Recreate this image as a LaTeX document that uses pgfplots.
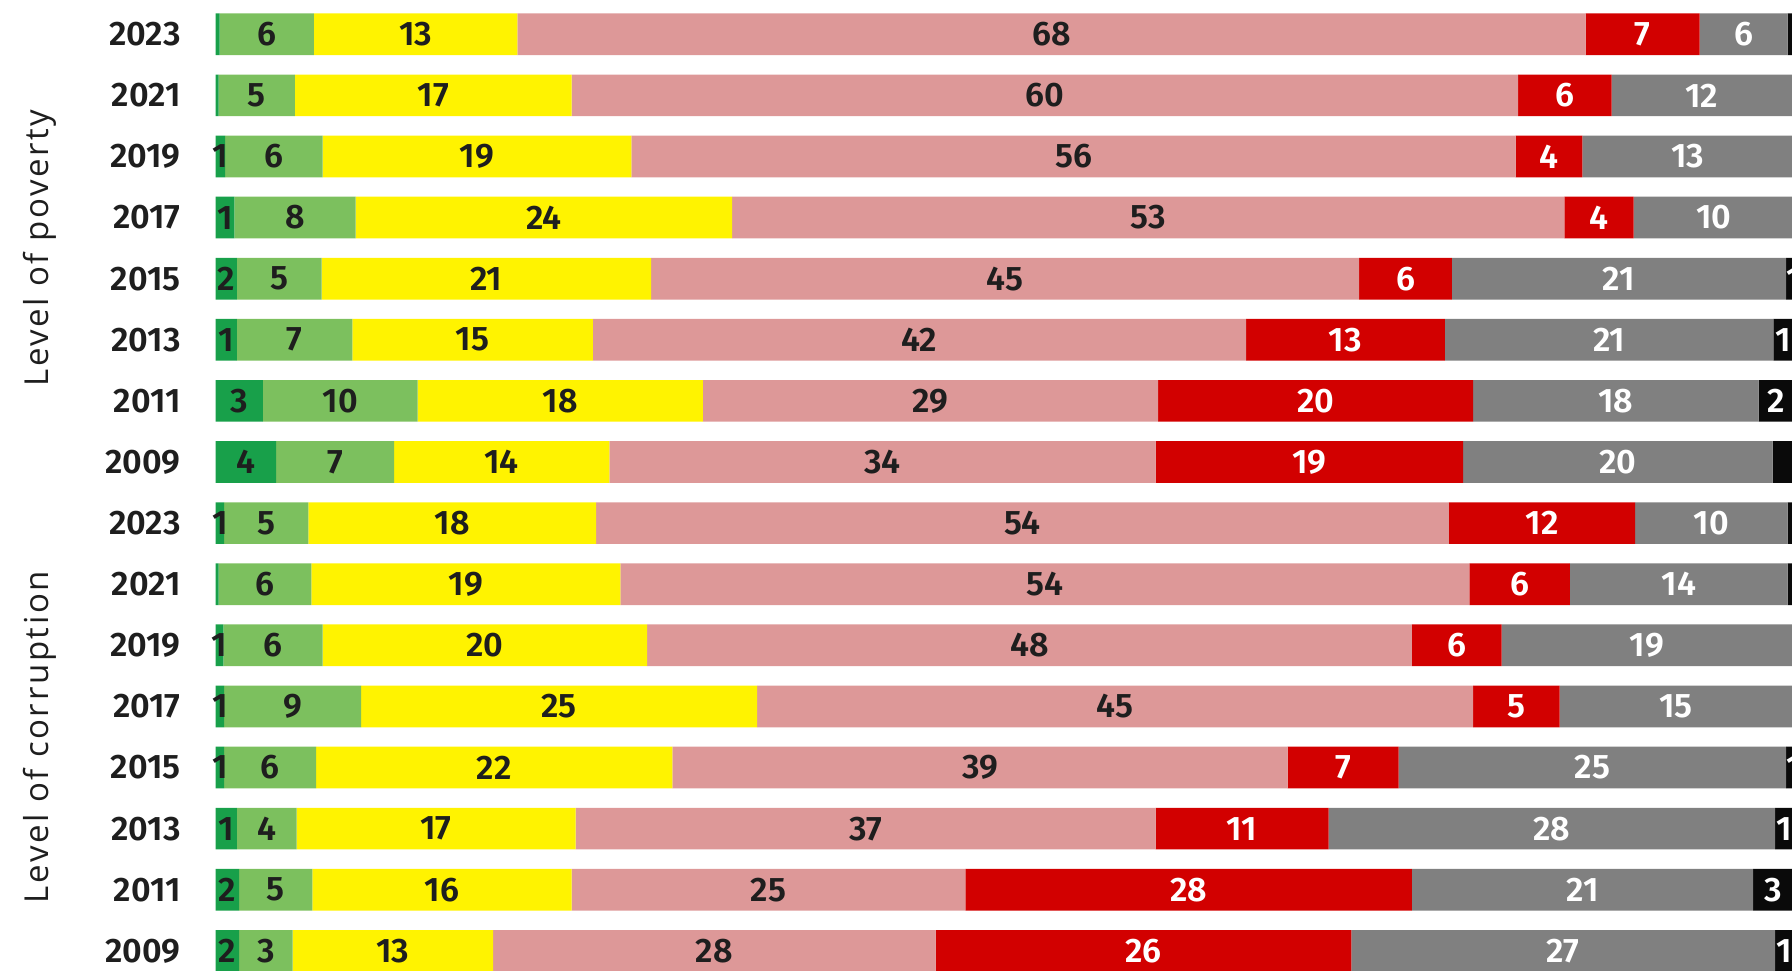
\documentclass[border=0pt]{standalone}
\usepackage{fontspec}
\setmainfont{Fira Sans}
\newfontfamily\labfont{Fira Sans}[BoldFont={Fira Sans SemiBold}]
\newfontfamily\grpfont{Open Sans}[LetterSpace=8]
\usepackage{pgfplots}
\usepackage{pgfplotstable}
\pgfplotsset{compat=1.18}
\definecolor{cdg}{RGB}{24,160,74}
\definecolor{clg}{RGB}{124,192,94}
\definecolor{cye}{RGB}{255,243,0}
\definecolor{cpk}{RGB}{221,152,152}
\definecolor{crd}{RGB}{210,0,0}
\definecolor{cgy}{RGB}{128,128,128}
\definecolor{cbk}{RGB}{10,10,10}
\definecolor{ctx}{RGB}{30,30,30}
\pgfplotstableread{
y  w1   w2   w3    w4    w5    w6    w7  l1 l2 l3 l4 l5 l6 l7
15 0.25 6.0  12.95 67.95 7.25  5.6   1.0 {} 6  13 68 7  6  {}
14 0.2  4.85 17.6  60.2  5.95  11.5  0   {} 5  17 60 6  12 {}
13 0.6  6.2  19.65 56.25 4.25  13.4  0   1  6  19 56 4  13 {}
12 1.2  7.7  23.95 52.95 4.4   10.2  0   1  8  24 53 4  10 {}
11 1.35 5.4  20.95 45.05 5.9   21.25 1.0 2  5  21 45 6  21 1
10 1.35 7.35 15.3  41.55 12.65 20.9  1.2 1  7  15 42 13 21 1
9  3.0  9.85 18.15 28.95 20.05 18.15 2.2 3  10 18 29 20 18 2
8  3.85 7.5  13.7  34.75 19.55 19.7  1.3 4  7  14 34 19 20 {}
7  0.55 5.35 18.3  54.25 11.85 9.7   1.0 1  5  18 54 12 10 {}
6  0.2  5.9  19.65 54.0  6.4   13.85 1.0 {} 6  19 54 6  14 {}
5  0.5  6.3  20.65 48.65 5.7   18.5  0   1  6  20 48 6  19 {}
4  0.55 8.7  25.2  45.55 5.5   14.8  0   1  9  25 45 5  15 {}
3  0.55 5.85 22.65 39.15 7.05  24.65 1.0 1  6  22 39 7  25 1
2  1.35 3.8  17.75 36.9  11.0  28.4  1.2 1  4  17 37 11 28 1
1  1.5  4.65 16.5  25.05 28.4  21.7  2.6 2  5  16 25 28 21 3
0  1.5  3.4  12.75 28.15 26.45 26.95 1.2 2  3  13 28 26 27 1
}\data
\begin{document}
\begin{tikzpicture}
\begin{axis}[
  scale only axis, width=801.7pt, height=485pt,
  xbar stacked, bar width=0.682,
  xmin=0, xmax=102, ymin=-0.314, ymax=15.561,
  hide x axis,
  axis line style={draw=none}, tick style={draw=none},
  major tick length=0pt,
  ytick={0,...,15},
  yticklabels={2009,2011,2013,2015,2017,2019,2021,2023,2009,2011,2013,2015,2017,2019,2021,2023},
  yticklabel style={font=\labfont\bfseries\fontsize{17}{17}\selectfont, text=ctx, anchor=east, inner sep=0pt, xshift=-17.3pt},
  clip mode=individual,
  point meta=explicit symbolic,
  nodes near coords,
  nodes near coords style={font=\labfont\bfseries\fontsize{17}{17}\selectfont, anchor=center, inner sep=0pt},
]
\addplot[draw=none, fill=cdg, nodes near coords style={text=ctx}] table[x=w1, y=y, meta=l1] {\data};
\addplot[draw=none, fill=clg, nodes near coords style={text=ctx}] table[x=w2, y=y, meta=l2] {\data};
\addplot[draw=none, fill=cye, nodes near coords style={text=ctx}] table[x=w3, y=y, meta=l3] {\data};
\addplot[draw=none, fill=cpk, nodes near coords style={text=ctx}] table[x=w4, y=y, meta=l4] {\data};
\addplot[draw=none, fill=crd, nodes near coords style={text=white}] table[x=w5, y=y, meta=l5] {\data};
\addplot[draw=none, fill=cgy, nodes near coords style={text=white}] table[x=w6, y=y, meta=l6] {\data};
\addplot[draw=none, fill=cbk, nodes near coords style={text=white}] table[x=w7, y=y, meta=l7] {\data};
\node[rotate=90, font=\grpfont\fontsize{16.5}{16.5}\selectfont, text=ctx] at ([xshift=-87.8pt]axis cs:0,11.5) {Level of poverty};
\node[rotate=90, font=\grpfont\fontsize{16.5}{16.5}\selectfont, text=ctx] at ([xshift=-87.8pt]axis cs:0,3.5) {Level of corruption};
\coordinate (tr) at (axis cs:100.28,15.561);
\coordinate (bl) at (axis cs:0,-0.314);
\end{axis}
\pgfresetboundingbox
\path[use as bounding box] ([xshift=-107.8pt]bl) rectangle (tr);
\end{tikzpicture}
\end{document}
